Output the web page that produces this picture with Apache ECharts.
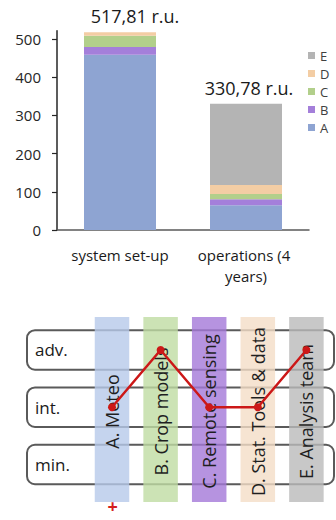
<!DOCTYPE html>
<html>
<head>
<meta charset="utf-8">
<script src="https://cdn.jsdelivr.net/npm/echarts@6/dist/echarts.min.js"></script>
<style>
  html, body { margin: 0; padding: 0; background: #fff; }
  #chart { width: 336px; height: 520px; }
</style>
</head>
<body>
<div id="chart"></div>
<script>
// Cost breakdown per phase (relative units)
const categories = ['system set-up', 'operations (4 years)'];
const valuesA = [458.8, 64.8];
const valuesB = [20.2, 15.7];
const valuesC = [29.7, 13.9];
const valuesD = [9.11, 23.6];
const valuesE = [0, 212.78];
const totals = [517.81, 330.78];
const yTicks = [0, 100, 200, 300, 400, 500];
const legendOrder = ['E', 'D', 'C', 'B', 'A'];

// Capability profile of the components
const components = ['A. Meteo', 'B. Crop models', 'C. Remote sensing', 'D. Stat. Tools & data', 'E. Analysis team'];
const levels = ['min.', 'int.', 'adv.'];
const chosenLevel = ['int.', 'adv.', 'int.', 'int.', 'adv.'];

const FONT = '"Open Sans", sans-serif';
const barColors = { A: '#8EA4D2', B: '#A47FDA', C: '#B2CF8B', D: '#F3CDA4', E: '#B4B4B4' };
const bandColors = ['#B6C9EA', '#BFDCA3', '#A478D8', '#F4DDC7', '#BABABA'];

const fmtTotal = v => v.toFixed(2).replace('.', ',') + ' r.u.';
const labelShift = [[15, 0], [3, 0]];

function stackSeries(name, values, withTotals) {
  return {
    name: name,
    type: 'bar',
    stack: 'cost',
    xAxisIndex: 0,
    yAxisIndex: 0,
    barWidth: 72,
    itemStyle: { color: barColors[name] },
    data: values.map((v, i) => withTotals ? {
      value: v,
      label: {
        show: true, position: 'top', distance: 7, offset: labelShift[i],
        formatter: () => fmtTotal(totals[i]),
        fontFamily: FONT, fontSize: 18, color: '#1A1A1A'
      }
    } : v)
  };
}

const chart = echarts.init(document.getElementById('chart'), null, { renderer: 'svg' });

const boxLeft = 27, boxRight = 334, boxHeight = 39.5;

chart.setOption({
  animation: false,
  backgroundColor: '#fff',
  textStyle: { fontFamily: FONT },
  legend: {
    data: legendOrder,
    orient: 'vertical',
    left: 303,
    top: 44,
    itemWidth: 7,
    itemHeight: 7,
    itemGap: 5,
    icon: 'rect',
    textStyle: { fontFamily: FONT, fontSize: 13, color: '#404040' }
  },
  grid: [
    { left: 57, right: 27, top: 30.7, bottom: 290 },
    { left: 87.7, right: 5.3, top: 317, bottom: 18 }
  ],
  xAxis: [
    {
      type: 'category', gridIndex: 0, data: categories,
      axisLine: { lineStyle: { color: '#595959', width: 1.5 } },
      axisTick: { show: false },
      axisLabel: {
        color: '#1A1A1A', fontFamily: FONT, fontSize: 15, margin: 14,
        width: 112, overflow: 'break', lineHeight: 21, interval: 0
      }
    },
    {
      type: 'category', gridIndex: 1, data: components, show: false
    }
  ],
  yAxis: [
    {
      type: 'value', gridIndex: 0, min: 0, max: 522,
      splitLine: { show: false },
      axisLine: { show: true, lineStyle: { color: '#262626', width: 1.5 } },
      axisTick: { show: true, length: 5, customValues: yTicks, lineStyle: { color: '#262626', width: 1.2 } },
      axisLabel: { customValues: yTicks, color: '#262626', fontFamily: FONT, fontSize: 15, margin: 16 }
    },
    {
      type: 'value', gridIndex: 1, min: -0.655, max: 2.576, show: false
    }
  ],
  series: [
    stackSeries('A', valuesA),
    stackSeries('B', valuesB),
    stackSeries('C', valuesC),
    stackSeries('D', valuesD),
    stackSeries('E', valuesE, true),
    {
      // level rows
      type: 'custom',
      xAxisIndex: 1, yAxisIndex: 1,
      z: 1,
      data: levels.map((l, i) => [0, i]),
      renderItem: (params, api) => {
        const y = api.coord([0, api.value(1)])[1];
        return {
          type: 'group',
          children: [
            {
              type: 'rect',
              shape: { x: boxLeft, y: y - boxHeight / 2, width: boxRight - boxLeft, height: boxHeight, r: 8 },
              style: { fill: '#fff', stroke: '#5A5A5A', lineWidth: 2 }
            },
            {
              type: 'text', x: boxLeft + 8, y: y,
              style: { text: levels[params.dataIndex], fill: '#1A1A1A', font: '17px ' + FONT, verticalAlign: 'middle', align: 'left' }
            }
          ]
        };
      }
    },
    {
      // component columns
      type: 'custom',
      xAxisIndex: 1, yAxisIndex: 1,
      z: 2,
      data: components.map((c, i) => [i, 0]),
      renderItem: (params, api) => {
        const cs = params.coordSys;
        const x = api.coord([api.value(0), 0])[0];
        const w = api.size([1, 0])[0] * 0.71;
        return {
          type: 'group',
          children: [
            {
              type: 'rect',
              shape: { x: x - w / 2, y: cs.y, width: w, height: cs.height },
              style: { fill: bandColors[params.dataIndex], opacity: 0.8 }
            },
            {
              type: 'text', x: x, y: cs.y + cs.height / 2 + 2, rotation: Math.PI / 2,
              style: { text: components[params.dataIndex], fill: '#1F1F1F', font: '18px ' + FONT, align: 'center', verticalAlign: 'middle' }
            }
          ]
        };
      }
    },
    {
      type: 'line',
      xAxisIndex: 1, yAxisIndex: 1,
      z: 5,
      data: chosenLevel.map(l => levels.indexOf(l)),
      symbol: 'circle',
      symbolSize: 8,
      lineStyle: { color: '#CC1818', width: 2.5 },
      itemStyle: { color: '#CC1818' }
    }
  ],
  graphic: [
    {
      type: 'text', x: 112.7, y: 506,
      style: { text: '+', fill: '#D42020', font: 'bold 18px ' + FONT, lineHeight: 16, align: 'center', verticalAlign: 'middle' }
    }
  ]
});
</script>
</body>
</html>
